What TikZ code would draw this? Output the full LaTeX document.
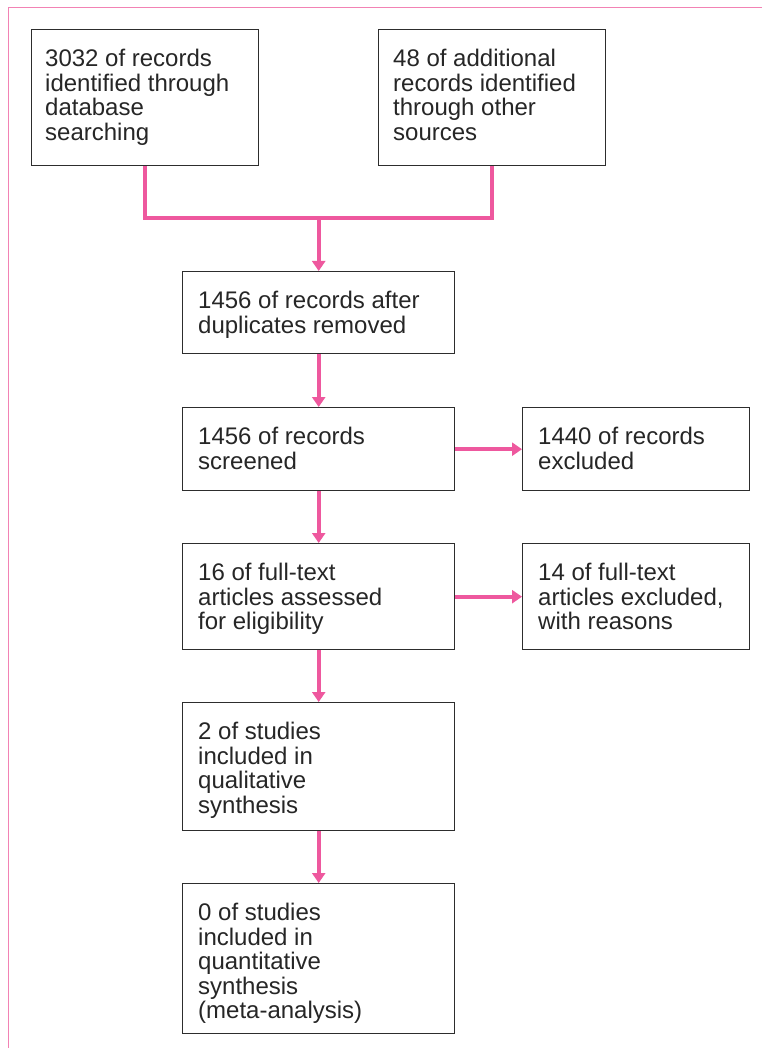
\documentclass[tikz,border=0pt]{standalone}
\usepackage{fontspec}
\setmainfont{Liberation Sans}
\usetikzlibrary{arrows.meta,calc}
\definecolor{flowpink}{RGB}{238,88,158}
\definecolor{framepink}{RGB}{242,130,180}
\definecolor{boxline}{RGB}{45,45,45}
\begin{document}
\begin{tikzpicture}[x=1pt,y=-1pt,
  stagebox/.style={draw=boxline,line width=1.4pt,rectangle,inner sep=0pt,anchor=north west},
  boxtext/.style={anchor=north west,inner sep=0pt,align=left,text=black!85,
    font=\fontsize{24}{24.5}\selectfont},
  flow/.style={draw=flowpink,line width=4pt},
  flowarrow/.style={flow,-{Triangle[width=13pt,length=10pt]}},
  frameline/.style={draw=framepink,line width=1.3pt}]
\useasboundingbox (0,0) rectangle (762,1048);
\fill[white] (0,0) rectangle (762,1048);
% page frame
\draw[frameline] (762,7.5) -- (8.5,7.5) -- (8.5,1048);

% boxes
\node[stagebox,minimum width=227pt,minimum height=136pt] (b1) at (31,29) {};
\node[stagebox,minimum width=227pt,minimum height=136pt] (b2) at (378,29) {};
\node[stagebox,minimum width=272pt,minimum height=82pt] (b3) at (182,271) {};
\node[stagebox,minimum width=272pt,minimum height=83pt] (b4) at (182,407) {};
\node[stagebox,minimum width=227pt,minimum height=83pt] (b5) at (522,407) {};
\node[stagebox,minimum width=272pt,minimum height=106pt] (b6) at (182,543) {};
\node[stagebox,minimum width=227pt,minimum height=106pt] (b7) at (522,543) {};
\node[stagebox,minimum width=272pt,minimum height=128pt] (b8) at (182,702) {};
\node[stagebox,minimum width=272pt,minimum height=150pt] (b9) at (182,883) {};

% texts
\node[boxtext] (t1) at ($(b1.north west)+(14,20)$) {3032 of records\\identified through\\database\\searching};
\node[boxtext] (t2) at ($(b2.north west)+(15,20)$) {48 of additional\\records identified\\through other\\sources};
\node[boxtext] (t3) at ($(b3.north west)+(16,20)$) {1456 of records after\\duplicates removed};
\node[boxtext] (t4) at ($(b4.north west)+(16,20)$) {1456 of records\\screened};
\node[boxtext] (t5) at ($(b5.north west)+(16,20)$) {1440 of records\\excluded};
\node[boxtext] (t6) at ($(b6.north west)+(16,20)$) {16 of full-text\\articles assessed\\for eligibility};
\node[boxtext] (t7) at ($(b7.north west)+(16,20)$) {14 of full-text\\articles excluded,\\with reasons};
\node[boxtext] (t8) at ($(b8.north west)+(16,20)$) {2 of studies\\included in\\qualitative\\synthesis};
\node[boxtext] (t9) at ($(b9.north west)+(16,20)$) {0 of studies\\included in\\quantitative\\synthesis\\(meta-analysis)};

% connectors
\coordinate (join) at (b3.north |- 0,218);
\draw[flow] (b1.south) |- (join) -| (b2.south);
\draw[flowarrow] (join) -- (b3.north);
\draw[flowarrow] (b3.south) -- (b4.north);
\draw[flowarrow] (b4.east) -- (b5.west);
\draw[flowarrow] (b4.south) -- (b6.north);
\draw[flowarrow] (b6.east) -- (b7.west);
\draw[flowarrow] (b6.south) -- (b8.north);
\draw[flowarrow] (b8.south) -- (b9.north);
\end{tikzpicture}
\end{document}
